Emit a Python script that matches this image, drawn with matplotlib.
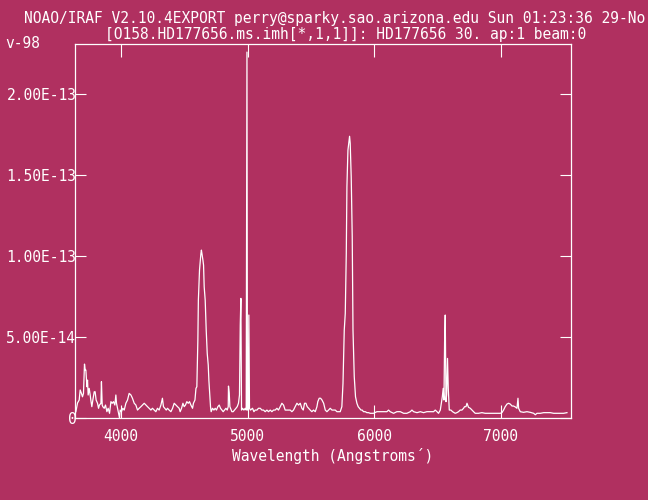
import numpy as np
import matplotlib
matplotlib.use("Agg")
import matplotlib.pyplot as plt

# spectrum: wavelength (Angstrom) and flux (units of 1E-14)
wave = [3642, 3655, 3668, 3676, 3686, 3694, 3702, 3710, 3716, 3721, 3729, 3734,
        3739, 3747, 3755, 3760, 3768, 3776, 3787, 3794, 3802, 3813, 3821, 3828,
        3840, 3844, 3850, 3855, 3866, 3876, 3887, 3897, 3908, 3919, 3929, 3939,
        3950, 3958, 3963, 3971, 3979, 3987, 3992, 4002, 4013, 4024, 4037, 4050,
        4063, 4077, 4089, 4103, 4116, 4129, 4142, 4156, 4168, 4182, 4195, 4208,
        4221, 4235, 4247, 4261, 4274, 4287, 4300, 4314, 4326, 4334, 4345, 4356,
        4366, 4379, 4393, 4406, 4419, 4432, 4445, 4458, 4466, 4477, 4488, 4498,
        4508, 4519, 4530, 4540, 4551, 4564, 4571, 4583, 4591,
        4598, 4606, 4610, 4619, 4630, 4634, 4640, 4646, 4651, 4656, 4664, 4672,
        4680, 4688, 4693, 4701, 4706, 4711, 4722, 4733, 4743, 4753, 4764, 4775,
        4785, 4796, 4806, 4817, 4828, 4838, 4846, 4848, 4854, 4859, 4864, 4875,
        4885, 4896, 4907, 4917, 4927, 4935, 4941, 4946, 4951, 4959, 4970, 4980,
        4988, 4994, 4998, 5004, 5009, 5014, 5022, 5038, 5049, 5059,
        5073, 5085, 5099, 5112, 5125, 5138, 5152, 5164, 5178, 5191, 5204, 5217,
        5231, 5243, 5257, 5270, 5283, 5296, 5310, 5323, 5336, 5349, 5362, 5375,
        5389, 5402, 5415, 5428, 5439, 5449, 5460, 5470, 5481, 5494, 5507, 5520,
        5534, 5547, 5554, 5565, 5576, 5587, 5600, 5613, 5626, 5639, 5652, 5666,
        5678, 5692, 5705, 5718, 5731, 5744,
        5753, 5763, 5771, 5779, 5784, 5792, 5800, 5805, 5810, 5818, 5826, 5832,
        5842, 5852, 5863, 5873, 5884, 5895, 5905, 5915, 5929, 5942, 5955,
        5968, 5994, 6021, 6047, 6073, 6100, 6113, 6126, 6153, 6179, 6206, 6232,
        6258, 6285, 6298, 6311, 6338, 6364, 6390, 6416, 6443, 6469, 6482, 6496,
        6508, 6522, 6530, 6538, 6545, 6551, 6556, 6561, 6567, 6572, 6579, 6585,
        6593, 6606, 6619, 6640, 6653, 6666, 6679, 6693, 6706, 6714, 6725, 6733,
        6745, 6759,
        6772, 6785, 6798, 6824, 6851, 6877, 6903, 6930, 6956, 6983, 6996, 7009,
        7022, 7035, 7049, 7062, 7075, 7089, 7101, 7115, 7128, 7136, 7141, 7154,
        7180, 7207, 7233, 7260, 7273, 7286, 7313, 7339, 7365, 7392, 7418, 7444,
        7470, 7496, 7523]

flux = [0.39, 0.93, 1.11, 1.73, 1.52, 1.31, 1.52, 3.33, 2.96, 2.96, 1.93, 2.34,
        1.42, 1.83, 1.42, 1.11, 0.70, 1.11, 1.62, 1.62, 1.11, 0.91, 0.60, 0.80,
        0.91, 2.24, 0.80, 0.70, 0.60, 0.80, 0.39, 0.60, 0.29, 1.01, 0.91, 1.01,
        0.80, 1.42, 0.91, 0.60, 0.29, 0.00, 0.49, 0.39, 0.60, 0.49, 0.91, 1.11,
        1.52, 1.42, 1.22, 0.91, 0.80, 0.49, 0.60, 0.70, 0.80, 0.91, 0.80, 0.70,
        0.60, 0.49, 0.60, 0.49, 0.39, 0.60, 0.49, 0.80, 1.22, 0.70, 0.60, 0.49,
        0.60, 0.49, 0.39, 0.60, 0.91, 0.80, 0.70, 0.60, 0.39, 0.60, 0.91, 0.70,
        0.80, 1.01, 0.91, 1.01, 0.80, 0.60, 0.91, 1.11, 1.83,
        1.93, 4.81, 7.28, 9.13, 10.16, 10.37, 10.06, 9.75, 9.44, 8.10, 7.28, 5.43,
        3.99, 3.27, 2.34, 1.31, 0.70, 0.39, 0.60, 0.49, 0.60, 0.49, 0.70, 0.80,
        0.60, 0.49, 0.39, 0.49, 0.60, 0.49, 0.70, 1.97, 1.54, 0.70, 0.60, 0.39,
        0.39, 0.49, 0.60, 0.70, 0.91, 1.42, 5.74, 7.39, 0.49, 0.60, 0.49, 0.60,
        0.49, 22.6, 0.49, 0.60, 6.36, 0.60, 0.49, 0.60, 0.39, 0.49,
        0.49, 0.60, 0.60, 0.49, 0.49, 0.39, 0.49, 0.39, 0.49, 0.39, 0.49, 0.49,
        0.60, 0.49, 0.70, 0.91, 0.80, 0.49, 0.49, 0.49, 0.49, 0.39, 0.49, 0.70,
        0.91, 0.80, 0.91, 0.60, 0.49, 0.91, 0.91, 0.70, 0.60, 0.49, 0.39, 0.49,
        0.39, 0.70, 1.01, 1.22, 1.22, 1.11, 0.91, 0.49, 0.39, 0.49, 0.60, 0.49,
        0.49, 0.49, 0.39, 0.39, 0.39, 0.70,
        2.14, 5.43, 6.46, 10.16, 14.27, 16.54, 17.05, 17.40, 16.97, 14.89, 11.19, 5.43,
        2.55, 1.31, 0.91, 0.70, 0.60, 0.49, 0.49, 0.39, 0.39, 0.33, 0.33,
        0.29, 0.29, 0.39, 0.39, 0.39, 0.39, 0.49, 0.39, 0.29, 0.39, 0.39, 0.29,
        0.29, 0.39, 0.49, 0.39, 0.33, 0.39, 0.33, 0.39, 0.39, 0.39, 0.49, 0.39,
        0.29, 0.49, 0.91, 1.31, 1.83, 1.11, 4.71, 6.36, 1.01, 1.42, 3.68, 1.83,
        0.49, 0.49, 0.39, 0.29, 0.33, 0.39, 0.49, 0.49, 0.60, 0.70, 0.70, 0.91,
        0.66, 0.60,
        0.49, 0.39, 0.29, 0.29, 0.33, 0.29, 0.29, 0.29, 0.29, 0.29, 0.29, 0.33,
        0.49, 0.70, 0.86, 0.91, 0.86, 0.74, 0.74, 0.68, 0.60, 1.22, 0.60, 0.39,
        0.35, 0.39, 0.35, 0.29, 0.20, 0.29, 0.29, 0.33, 0.33, 0.33, 0.29, 0.29,
        0.29, 0.29, 0.33]

xticks = [4000, 5000, 6000, 7000]
yticks = [0, 5e-14, 1e-13, 1.5e-13, 2e-13]
ylabels = ["0", "5.00E-14", "1.00E-13", "1.50E-13", "2.00E-13"]

bg = "#B03060"
fg = "white"
mono = "DejaVu Sans Mono"

fig = plt.figure(figsize=(6.48, 5.0), dpi=100, facecolor=bg)
ax = fig.add_axes([75 / 648, 82 / 500, 496 / 648, 374 / 500], facecolor=bg)

ax.plot(np.array(wave), np.array(flux) * 1e-14, color=fg, lw=0.9)

ax.set_xlim(3635, 7555)
ax.set_ylim(0, 2.31e-13)

for s in ax.spines.values():
    s.set_color(fg)
    s.set_linewidth(0.9)

ax.set_xticks(xticks)
ax.set_xticklabels([str(t) for t in xticks])
ax.set_yticks(yticks)
ax.set_yticklabels(ylabels)
ax.tick_params(axis="x", direction="in", length=9.4, width=0.8, color=fg,
               top=True, bottom=True, pad=8, labelcolor=fg, labelsize=10.5)
ax.tick_params(axis="y", direction="in", length=8, width=0.8, color=fg,
               left=True, right=True, pad=-1, labelcolor=fg, labelsize=10.5)
for lab in ax.get_xticklabels() + ax.get_yticklabels():
    lab.set_family(mono)

fig.text(24 / 648, 1 - 18 / 500,
         "NOAO/IRAF V2.10.4EXPORT perry@sparky.sao.arizona.edu Sun 01:23:36 29-No",
         color=fg, family=mono, fontsize=10.5, ha="left", va="center")
fig.text(105 / 648, 1 - 34 / 500,
         "[O158.HD177656.ms.imh[*,1,1]]: HD177656 30. ap:1 beam:0",
         color=fg, family=mono, fontsize=10.5, ha="left", va="center")
fig.text(5 / 648, 1 - 44 / 500, "v-98", color=fg, family=mono,
         fontsize=10.5, ha="left", va="center")
fig.text(232 / 648, 1 - 456 / 500, "Wavelength (Angstroms\u00b4)", color=fg,
         family=mono, fontsize=10.5, ha="left", va="center")

fig.savefig("out.png", dpi=100, facecolor=bg)
